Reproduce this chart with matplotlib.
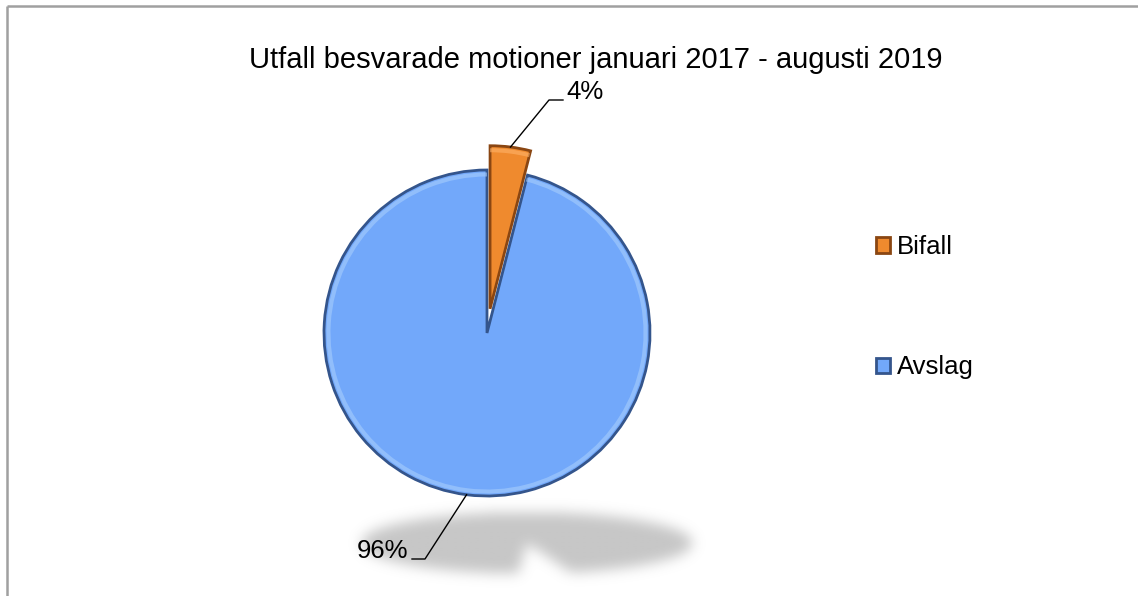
import numpy as np
import matplotlib
matplotlib.use("Agg")
import matplotlib.pyplot as plt

plt.rcParams['font.family'] = ['Liberation Sans', 'DejaVu Sans']

# data
title = "Utfall besvarade motioner januari 2017 - augusti 2019"
categories = ["Bifall", "Avslag"]
values = [4, 96]
colors = ["#ef8a2e", "#72a8fa"]
edge_colors = ["#8a4612", "#34558c"]
light_colors = ["#ffb36a", "#a6cdfd"]

W, H = 1138, 596
fig = plt.figure(figsize=(W / 100, H / 100), dpi=100)
ax = fig.add_axes([0, 0, 1, 1])

# pie geometry (pixel-like units, y up)
cx, cy, R = 487, 263, 163
explode = [0.15 * R, 0]

# blurred shadow under the pie (flattened, mirrored copy of the big slice)
fr = np.array(values) / sum(values)
ang_top = 90.0
ang_split = 90.0 - 360 * fr[0]
scx, scy, ssx, ssy = 527, 53, 166, 31
gx = np.arange(300, 760)
gy = np.arange(0, 130)
X, Y = np.meshgrid(gx, gy)
u = (X - scx) / ssx
v = -(Y - scy) / ssy
rr = np.hypot(u, v)
th = np.degrees(np.arctan2(v, u))
mask = (rr <= 1) & ~((th > ang_split - 1) & (th < ang_top + 3))
mask = mask.astype(float)
k = np.ones(11) / 11
for _ in range(4):
    mask = np.apply_along_axis(lambda r: np.convolve(r, k, mode='same'), 1, mask)
    mask = np.apply_along_axis(lambda r: np.convolve(r, k, mode='same'), 0, mask)
rgba = np.zeros(mask.shape + (4,))
rgba[..., :3] = 0.6
rgba[..., 3] = mask * 0.55
ax.imshow(rgba, extent=(gx[0], gx[-1], gy[0], gy[-1]), origin='lower', zorder=1, interpolation='bilinear')

# pie with dark edge
wedges, _ = ax.pie(values, colors=colors, startangle=90, counterclock=False,
                   explode=explode, center=(cx, cy), radius=R,
                   wedgeprops=dict(edgecolor='none'))
for w, ec in zip(wedges, edge_colors):
    w.set_edgecolor(ec)
    w.set_linewidth(2.0)
wedges[0].set_zorder(3)
wedges[1].set_zorder(2)
# light bevel rim along the arc
rim, _ = ax.pie(values, colors=light_colors, startangle=90, counterclock=False,
                explode=explode, center=(cx, cy), radius=R - 2.5,
                wedgeprops=dict(width=4, edgecolor='none', alpha=0.6))
for w in rim:
    w.set_zorder(3)

# percentage labels with leader lines
mids = []
a0 = 90.0
for f in fr:
    a1 = a0 - 360 * f
    mids.append(np.radians((a0 + a1) / 2))
    a0 = a1
leader = [((549, 496), (563, 496), 'left'), ((425, 37), (412, 37), 'right')]
for i, (f, m) in enumerate(zip(fr, mids)):
    ox = cx + explode[i] * np.cos(m)
    oy = cy + explode[i] * np.sin(m)
    px, py = ox + R * np.cos(m), oy + R * np.sin(m)
    (ex, ey), (hx, hy), ha = leader[i]
    ax.plot([px, ex, hx], [py, ey, hy], color='black', lw=1, zorder=4)
    tx = hx + 3 if ha == 'left' else hx - 4
    ax.text(tx, hy + 1, f"{f:.0%}", ha=ha, va='baseline', fontsize=18.5, zorder=5)

ax.text(596, 596 - 68, title, ha='center', va='baseline', fontsize=21)

leg = ax.legend(wedges, categories, loc='upper left', bbox_to_anchor=(876 / W, 1 - 235 / H),
                frameon=False, fontsize=18.5, handlelength=0.55, handleheight=0.55,
                handletextpad=0.25, labelspacing=3.75, borderpad=0, borderaxespad=0)

# chart area border (only top and left visible)
ax.plot([7, W], [H - 6, H - 6], color='#a0a0a0', lw=1.8, solid_capstyle='butt', zorder=6)
ax.plot([7, 7], [H - 6, 0], color='#a0a0a0', lw=1.8, solid_capstyle='butt', zorder=6)

ax.set_xlim(0, W)
ax.set_ylim(0, H)
ax.set_aspect('equal')
ax.axis('off')

fig.savefig("out.png", dpi=100)
